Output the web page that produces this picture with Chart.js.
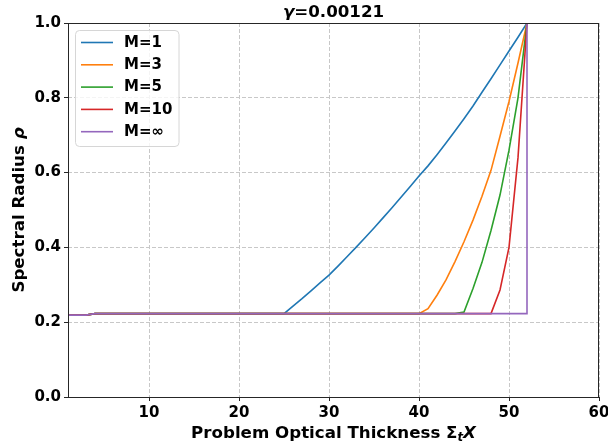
<!DOCTYPE html>
<html><head><meta charset="utf-8">
<script src="https://cdn.jsdelivr.net/npm/chart.js@4/dist/chart.umd.min.js"></script>
<style>html,body{margin:0;padding:0;background:#fff}#wrap{width:608px;height:444px;position:relative}</style>
</head><body><div id="wrap"><canvas id="c" width="608" height="444"></canvas></div>
<script>
const titleGreek = 'γ';
const titleRest = '=0.00121';
const xTitleMain = 'Problem Optical Thickness Σ';
const xTitleSub = 't';
const xTitleEnd = 'X';
const yTitleMain = 'Spectral Radius ';
const yTitleEnd = 'ρ';
const xTicks = [10, 20, 30, 40, 50, 60];
const yTicks = [0.0, 0.2, 0.4, 0.6, 0.8, 1.0];
const seriesLabels = ['M=1', 'M=3', 'M=5', 'M=10', 'M=∞'];
const seriesColors = ['#1f77b4', '#ff7f0e', '#2ca02c', '#d62728', '#9467bd'];

const m1X = [1, 2, 3, 4, 25, 26, 27, 28, 29, 30, 31, 32, 33, 34, 35, 36, 37, 38, 39, 40, 41, 42, 43, 44, 45, 46, 47, 48, 49, 50, 51, 52];
const m1Y = [0.219, 0.219, 0.219, 0.223, 0.223, 0.243, 0.263, 0.284, 0.305, 0.326, 0.350, 0.375, 0.400, 0.426, 0.452, 0.479, 0.506, 0.534, 0.562, 0.591, 0.618, 0.648, 0.679, 0.711, 0.744, 0.778, 0.815, 0.851, 0.888, 0.925, 0.962, 1.0];
const m3X = [1, 2, 3, 4, 40, 41, 42, 43, 44, 45, 46, 47, 48, 49, 50, 51, 52];
const m3Y = [0.219, 0.219, 0.219, 0.223, 0.223, 0.236, 0.272, 0.313, 0.362, 0.415, 0.473, 0.537, 0.606, 0.697, 0.790, 0.893, 1.0];
const m5X = [1, 2, 3, 4, 44, 45, 46, 47, 48, 49, 50, 51, 52];
const m5Y = [0.219, 0.219, 0.219, 0.223, 0.223, 0.227, 0.290, 0.360, 0.445, 0.540, 0.660, 0.800, 1.0];
const m10X = [1, 2, 3, 4, 48, 49, 50, 51, 52];
const m10Y = [0.219, 0.219, 0.219, 0.223, 0.223, 0.286, 0.400, 0.640, 1.0];
const mInfX = [1, 2, 3, 4, 52, 52];
const mInfY = [0.219, 0.219, 0.219, 0.223, 0.223, 1.0];

const seriesX = [m1X, m3X, m5X, m10X, mInfX];
const seriesY = [m1Y, m3Y, m5Y, m10Y, mInfY];

const FONT = "'DejaVu Sans', sans-serif";

const datasets = seriesLabels.map((lab, i) => ({
  label: lab,
  data: seriesX[i].map((x, j) => ({ x: x, y: seriesY[i][j] })),
  borderColor: seriesColors[i],
  backgroundColor: seriesColors[i],
  borderWidth: 1.6,
  pointRadius: 0,
  tension: 0,
  fill: false,
  order: seriesLabels.length - i
}));

const decor = {
  id: 'decor',
  afterDatasetsDraw(chart) {
    const ctx = chart.ctx;
    const a = chart.chartArea;
    ctx.save();
    ctx.strokeStyle = '#262626';
    ctx.lineWidth = 1;
    ctx.setLineDash([]);
    ctx.strokeRect(Math.round(a.left) + 0.5, Math.round(a.top) + 0.5, Math.round(a.right - a.left) - 1, Math.round(a.bottom - a.top));
    ctx.restore();
  },
  afterDraw(chart) {
    const ctx = chart.ctx;
    const a = chart.chartArea;
    const cx = (a.left + a.right) / 2;
    ctx.save();
    ctx.fillStyle = '#000';
    ctx.textBaseline = 'alphabetic';
    ctx.textAlign = 'left';
    // title
    const fT = 16.67;
    ctx.font = 'italic bold ' + fT + 'px ' + FONT;
    const wg = ctx.measureText(titleGreek).width;
    ctx.font = 'bold ' + fT + 'px ' + FONT;
    const wr = ctx.measureText(titleRest).width;
    let x0 = cx - (wg + wr) / 2;
    ctx.font = 'italic bold ' + fT + 'px ' + FONT;
    ctx.fillText(titleGreek, x0, 17);
    ctx.font = 'bold ' + fT + 'px ' + FONT;
    ctx.fillText(titleRest, x0 + wg, 17);
    // x title
    const fL = 16.67;
    ctx.font = 'bold ' + fL + 'px ' + FONT;
    const w1 = ctx.measureText(xTitleMain).width;
    ctx.font = 'italic bold ' + (fL * 0.7) + 'px ' + FONT;
    const w2 = ctx.measureText(xTitleSub).width;
    ctx.font = 'italic bold ' + fL + 'px ' + FONT;
    const w3 = ctx.measureText(xTitleEnd).width;
    x0 = cx - (w1 + w2 + w3) / 2;
    const by = 438;
    ctx.font = 'bold ' + fL + 'px ' + FONT;
    ctx.fillText(xTitleMain, x0, by);
    ctx.font = 'italic bold ' + (fL * 0.7) + 'px ' + FONT;
    ctx.fillText(xTitleSub, x0 + w1, by + 3);
    ctx.font = 'italic bold ' + fL + 'px ' + FONT;
    ctx.fillText(xTitleEnd, x0 + w1 + w2, by);
    // y title
    ctx.font = 'bold ' + fL + 'px ' + FONT;
    const v1 = ctx.measureText(yTitleMain).width;
    ctx.font = 'italic bold ' + fL + 'px ' + FONT;
    const v2 = ctx.measureText(yTitleEnd).width;
    ctx.translate(24, (a.top + a.bottom) / 2);
    ctx.rotate(-Math.PI / 2);
    ctx.font = 'bold ' + fL + 'px ' + FONT;
    ctx.fillText(yTitleMain, -(v1 + v2) / 2, 0);
    ctx.font = 'italic bold ' + fL + 'px ' + FONT;
    ctx.fillText(yTitleEnd, -(v1 + v2) / 2 + v1, 0);
    ctx.restore();

    // legend
    ctx.save();
    const lx = 75.5, ly = 30.5, lw = 103.5, lh = 116;
    ctx.beginPath();
    if (ctx.roundRect) ctx.roundRect(lx, ly, lw, lh, 4); else ctx.rect(lx, ly, lw, lh);
    ctx.fillStyle = 'rgba(255,255,255,0.8)';
    ctx.fill();
    ctx.strokeStyle = '#d6d6d6';
    ctx.lineWidth = 1;
    ctx.stroke();
    const rowY = [42.5, 64.8, 87.1, 109.4, 131.7];
    ctx.font = 'bold 15px ' + FONT;
    ctx.textBaseline = 'middle';
    seriesLabels.forEach((lab, i) => {
      ctx.strokeStyle = seriesColors[i];
      ctx.lineWidth = 1.6;
      ctx.beginPath();
      ctx.moveTo(81, rowY[i]);
      ctx.lineTo(113, rowY[i]);
      ctx.stroke();
      ctx.fillStyle = '#000';
      ctx.fillText(lab, 124, rowY[i] + 0.5);
    });
    ctx.restore();
  }
};

new Chart(document.getElementById('c'), {
  type: 'line',
  data: { datasets: datasets },
  plugins: [decor],
  options: {
    responsive: false,
    animation: false,
    events: [],
    layout: { padding: { left: 0, right: 9, top: 23, bottom: 0 } },
    plugins: { legend: { display: false }, title: { display: false }, tooltip: { enabled: false } },
    scales: {
      x: {
        type: 'linear',
        min: 1, max: 60,
        afterBuildTicks(s) { s.ticks = xTicks.map(v => ({ value: v })); },
        afterFit(s) { s.height = 47; s.paddingLeft = 0; s.paddingRight = 0; },
        border: { display: false, dash: [4, 2] },
        grid: { color: '#c8c8c8', lineWidth: 1, drawTicks: true, tickLength: 4, tickColor: '#262626', tickWidth: 1, tickBorderDash: [] },
        ticks: { color: '#000', font: { family: FONT, size: 15, weight: 'bold' }, padding: 3, maxRotation: 0, callback: v => String(v) }
      },
      y: {
        type: 'linear',
        min: 0, max: 1,
        afterBuildTicks(s) { s.ticks = yTicks.map(v => ({ value: v })); },
        afterFit(s) { s.width = 68; s.paddingTop = 0; s.paddingBottom = 0; },
        border: { display: false, dash: [4, 2] },
        grid: { color: '#c8c8c8', lineWidth: 1, drawTicks: true, tickLength: 4, tickColor: '#262626', tickWidth: 1, tickBorderDash: [] },
        ticks: { color: '#000', font: { family: FONT, size: 15, weight: 'bold' }, padding: 3, callback: v => Number(v).toFixed(1) }
      }
    }
  }
});
</script>
</body></html>
